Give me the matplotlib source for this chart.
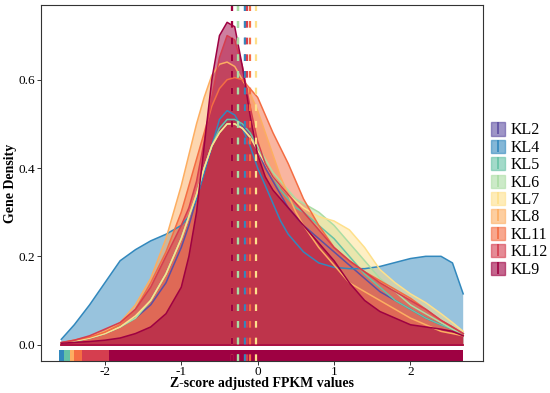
import matplotlib
matplotlib.use("Agg")
import matplotlib.pyplot as plt
from matplotlib.patches import Patch
from matplotlib.lines import Line2D

plt.rcParams['font.family'] = ['Liberation Serif', 'DejaVu Serif']
plt.rcParams['axes.unicode_minus'] = False

# shared evaluation grid of the density estimates (z-score)
z_grid = [-2.57, -2.4, -2.2, -2.0, -1.8, -1.6, -1.4, -1.2, -1.0, -0.9, -0.8, -0.7,
          -0.6, -0.5, -0.4, -0.3, -0.2, -0.1, 0.0, 0.1, 0.2, 0.3, 0.4, 0.5, 0.6,
          0.8, 1.0, 1.2, 1.4, 1.6, 1.8, 2.0, 2.2, 2.4, 2.55, 2.69]

groups = ['KL2', 'KL4', 'KL5', 'KL6', 'KL7', 'KL8', 'KL11', 'KL12', 'KL9']
colors = ['#5E4FA2', '#3288BD', '#66C2A5', '#ABDDA4', '#FEE08B',
          '#FDAE61', '#F46D43', '#D53E4F', '#9E0142']

dens_kl2 = [0.004, 0.008, 0.015, 0.025, 0.04, 0.06, 0.09, 0.14, 0.22, 0.27, 0.33, 0.39,
            0.45, 0.49, 0.51, 0.51, 0.5, 0.47, 0.44, 0.4, 0.37, 0.34, 0.31, 0.29, 0.27,
            0.24, 0.21, 0.18, 0.15, 0.12, 0.1, 0.08, 0.06, 0.045, 0.035, 0.025]
dens_kl4 = [0.012, 0.045, 0.09, 0.14, 0.19, 0.215, 0.235, 0.25, 0.27, 0.29, 0.33, 0.39,
            0.45, 0.51, 0.53, 0.52, 0.49, 0.45, 0.4, 0.36, 0.32, 0.28, 0.25, 0.23, 0.21,
            0.185, 0.175, 0.172, 0.172, 0.177, 0.186, 0.195, 0.2, 0.2, 0.185, 0.115]
dens_kl5 = [0.004, 0.008, 0.015, 0.025, 0.04, 0.06, 0.1, 0.16, 0.24, 0.29, 0.34, 0.4,
            0.45, 0.49, 0.51, 0.51, 0.5, 0.48, 0.45, 0.41, 0.38, 0.35, 0.33, 0.31, 0.3,
            0.27, 0.24, 0.2, 0.16, 0.13, 0.1, 0.08, 0.06, 0.045, 0.035, 0.025]
dens_kl6 = [0.004, 0.008, 0.015, 0.025, 0.04, 0.06, 0.1, 0.16, 0.24, 0.29, 0.34, 0.4,
            0.45, 0.48, 0.5, 0.5, 0.49, 0.47, 0.45, 0.42, 0.39, 0.37, 0.35, 0.33, 0.32,
            0.3, 0.27, 0.23, 0.19, 0.15, 0.12, 0.09, 0.07, 0.05, 0.035, 0.025]
dens_kl7 = [0.004, 0.008, 0.015, 0.025, 0.04, 0.065, 0.1, 0.16, 0.24, 0.29, 0.34, 0.4,
            0.45, 0.48, 0.5, 0.5, 0.49, 0.47, 0.44, 0.41, 0.38, 0.36, 0.34, 0.325, 0.31,
            0.29, 0.28, 0.26, 0.22, 0.17, 0.14, 0.115, 0.095, 0.07, 0.05, 0.03]
dens_kl8 = [0.004, 0.01, 0.018, 0.03, 0.05, 0.09, 0.15, 0.24, 0.36, 0.43, 0.5, 0.56,
            0.61, 0.635, 0.64, 0.63, 0.6, 0.57, 0.53, 0.48, 0.43, 0.38, 0.34, 0.3, 0.27,
            0.22, 0.18, 0.14, 0.12, 0.1, 0.08, 0.06, 0.045, 0.03, 0.025, 0.02]
dens_kl11 = [0.004, 0.01, 0.017, 0.028, 0.045, 0.08, 0.14, 0.21, 0.3, 0.36, 0.42, 0.48,
             0.54, 0.58, 0.6, 0.605, 0.6, 0.58, 0.56, 0.52, 0.48, 0.445, 0.41, 0.37, 0.33,
             0.27, 0.22, 0.19, 0.165, 0.145, 0.125, 0.105, 0.08, 0.055, 0.04, 0.025]
dens_kl12 = [0.005, 0.01, 0.02, 0.035, 0.05, 0.08, 0.13, 0.2, 0.27, 0.31, 0.37, 0.46,
             0.56, 0.65, 0.7, 0.69, 0.63, 0.54, 0.46, 0.41, 0.38, 0.36, 0.34, 0.32, 0.3,
             0.26, 0.22, 0.19, 0.165, 0.14, 0.12, 0.1, 0.08, 0.055, 0.04, 0.025]
dens_kl9 = [0.003, 0.005, 0.007, 0.01, 0.015, 0.025, 0.04, 0.07, 0.13, 0.2, 0.3, 0.45,
            0.6, 0.7, 0.73, 0.72, 0.63, 0.52, 0.43, 0.38, 0.35, 0.33, 0.31, 0.29, 0.27,
            0.23, 0.19, 0.14, 0.1, 0.075, 0.06, 0.045, 0.04, 0.035, 0.03, 0.02]
densities = [dens_kl2, dens_kl4, dens_kl5, dens_kl6, dens_kl7,
             dens_kl8, dens_kl11, dens_kl12, dens_kl9]

# group means (dashed lines)
means = [-0.166, -0.17, -0.255, -0.26, -0.026, -0.34, -0.10, -0.136, -0.335]

# extent of the rug for each group (densely covered range)
rug_lo = [-2.55, -2.6, -2.53, -2.3, -2.3, -2.45, -2.4, -2.3, -1.95]
rug_hi = [2.6, 2.69, 2.62, 2.63, 2.66, 2.6, 2.64, 2.65, 2.69]

fig = plt.figure(figsize=(5.5, 3.93), dpi=100)
ax = fig.add_axes([0.0745, 0.082, 0.8035, 0.905])

for g, c, d in zip(groups, colors, densities):
    ax.fill_between(z_grid, 0, d, facecolor=c, alpha=0.5, linewidth=0)
    ax.plot(z_grid, d, color=c, lw=1.1)
    ax.plot([z_grid[0], z_grid[-1]], [0, 0], color=c, lw=1.1)

for c, lo, hi in zip(colors, rug_lo, rug_hi):
    ax.axvspan(lo, hi, ymin=0, ymax=0.03, color=c, lw=0)

for c, m in zip(colors, means):
    ax.axvline(m, color=c, lw=1.6, ls=(0, (3, 4.5)))

ax.set_xlim(-2.836, 2.948)
ax.set_ylim(-0.0366, 0.769)
ax.set_xticks([-2, -1, 0, 1, 2])
ax.set_yticks([0.0, 0.2, 0.4, 0.6])
ax.set_yticklabels(['0.0', '0.2', '0.4', '0.6'])
ax.tick_params(labelsize=9.5, length=3, color='#333333', width=0.7, pad=1)
for s in ax.spines.values():
    s.set_color('#333333')
    s.set_linewidth(0.8)

ax.set_xlabel('Z-score adjusted FPKM values', fontsize=10, fontweight='bold')
ax.set_ylabel('Gene Density', fontsize=10, fontweight='bold')
ax.xaxis.set_label_coords(0.5, -0.064)
ax.yaxis.set_label_coords(-0.07, 0.5)
ax.xaxis.label.set_va('center')
ax.yaxis.label.set_va('center')

handles = [(Patch(facecolor=c, edgecolor=c, alpha=0.6, lw=1),
            Line2D([], [], color=c, marker='|', ls='none', markersize=8, mew=1.2))
           for c in colors]
ax.legend(handles, groups, loc='center left', bbox_to_anchor=(0.993, 0.452),
          frameon=False, fontsize=11.5, handlelength=0.9, handleheight=0.9,
          labelspacing=0.08, handletextpad=0.3, borderaxespad=0.3)

fig.savefig('out.png', dpi=100)
